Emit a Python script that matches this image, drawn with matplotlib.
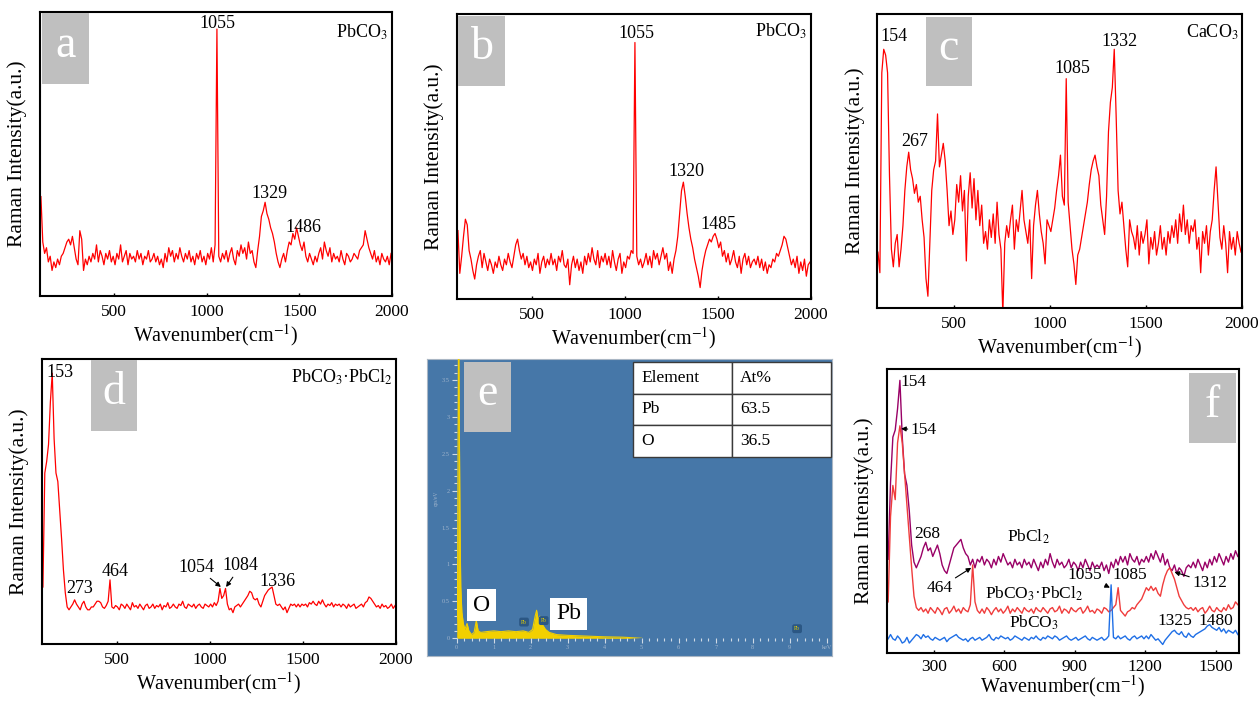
import matplotlib
matplotlib.use('Agg')
import matplotlib.pyplot as plt
from matplotlib.patches import Rectangle

plt.rcParams['font.family'] = ['Liberation Serif', 'DejaVu Serif']
plt.rcParams['mathtext.fontset'] = 'stix'

# ---- data (intensity in % of panel height) ----
wavenumber = [
    105, 115, 125, 135, 145, 155, 165, 175, 185, 195,
    205, 215, 225, 235, 245, 255, 265, 275, 285, 295,
    305, 315, 325, 335, 345, 355, 365, 375, 385, 395,
    405, 415, 425, 435, 445, 455, 465, 475, 485, 495,
    505, 515, 525, 535, 545, 555, 565, 575, 585, 595,
    605, 615, 625, 635, 645, 655, 665, 675, 685, 695,
    705, 715, 725, 735, 745, 755, 765, 775, 785, 795,
    805, 815, 825, 835, 845, 855, 865, 875, 885, 895,
    905, 915, 925, 935, 945, 955, 965, 975, 985, 995,
    1005, 1015, 1025, 1035, 1045, 1055, 1065, 1075, 1085, 1095,
    1105, 1115, 1125, 1135, 1145, 1155, 1165, 1175, 1185, 1195,
    1205, 1215, 1225, 1235, 1245, 1255, 1265, 1275, 1285, 1295,
    1305, 1315, 1325, 1335, 1345, 1355, 1365, 1375, 1385, 1395,
    1405, 1415, 1425, 1435, 1445, 1455, 1465, 1475, 1485, 1495,
    1505, 1515, 1525, 1535, 1545, 1555, 1565, 1575, 1585, 1595,
    1605, 1615, 1625, 1635, 1645, 1655, 1665, 1675, 1685, 1695,
    1705, 1715, 1725, 1735, 1745, 1755, 1765, 1775, 1785, 1795,
    1805, 1815, 1825, 1835, 1845, 1855, 1865, 1875, 1885, 1895,
    1905, 1915, 1925, 1935, 1945, 1955, 1965, 1975, 1985, 1995,
]

raman_a = [
    35, 19, 15, 17, 12, 14, 9, 12, 10, 13,
    11, 14, 15, 17, 19, 20, 18, 21, 17, 13,
    11, 23, 20, 9, 13, 11, 14, 12, 15, 13,
    18, 12, 16, 14, 11, 15, 13, 16, 12, 14,
    11, 15, 13, 18, 12, 14, 16, 11, 15, 13,
    14, 12, 16, 13, 15, 11, 14, 13, 16, 12,
    13, 15, 12, 14, 11, 13, 10, 15, 12, 17,
    14, 16, 12, 15, 13, 17, 14, 12, 15, 13,
    16, 12, 14, 11, 15, 13, 16, 12, 14, 11,
    15, 13, 17, 12, 18, 94, 14, 12, 15, 13,
    16, 12, 15, 17, 13, 11, 16, 14, 18, 15,
    17, 13, 19, 15, 16, 12, 10, 16, 21, 28,
    30, 33, 29, 27, 24, 22, 19, 15, 12, 10,
    13, 15, 12, 16, 19, 18, 22, 20, 24, 21,
    18, 16, 19, 14, 12, 15, 13, 11, 14, 12,
    15, 17, 13, 19, 16, 14, 17, 12, 15, 13,
    14, 12, 16, 13, 11, 15, 14, 12, 13, 15,
    14, 13, 16, 17, 18, 23, 20, 17, 15, 13,
    16, 12, 14, 11, 15, 13, 12, 14, 11, 15,
]

raman_b = [
    24, 9, 15, 22, 28, 26, 17, 14, 10, 7,
    12, 15, 17, 11, 16, 13, 10, 14, 12, 9,
    13, 11, 15, 12, 10, 14, 12, 16, 13, 11,
    15, 19, 21, 17, 14, 16, 12, 15, 11, 13,
    10, 14, 12, 16, 9, 13, 15, 11, 14, 12,
    16, 12, 14, 10, 15, 13, 17, 12, 11, 14,
    5, 12, 15, 11, 14, 10, 13, 9, 15, 12,
    16, 13, 18, 14, 12, 17, 11, 15, 13, 16,
    12, 15, 11, 17, 13, 10, 14, 16, 9, 13,
    11, 15, 14, 17, 16, 90, 15, 12, 14, 11,
    13, 16, 12, 15, 11, 17, 14, 16, 12, 15,
    18, 14, 16, 10, 13, 9, 14, 17, 22, 30,
    38, 41, 36, 30, 25, 21, 18, 14, 11, 8,
    4, 10, 14, 17, 19, 21, 20, 22, 23, 21,
    18, 20, 15, 17, 13, 16, 12, 14, 17, 13,
    11, 15, 9, 14, 16, 12, 15, 11, 13, 14,
    12, 15, 11, 14, 10, 13, 9, 12, 11, 14,
    13, 16, 15, 17, 19, 22, 21, 18, 15, 12,
    14, 11, 15, 9, 13, 10, 14, 8, 12, 13,
]

raman_c = [
    19, 12, 80, 88, 86, 80, 45, 20, 14, 22,
    25, 14, 20, 28, 40, 48, 53, 47, 44, 39,
    42, 36, 38, 30, 24, 10, 4, 22, 40, 47,
    50, 66, 48, 52, 56, 50, 40, 28, 33, 25,
    30, 42, 36, 45, 33, 40, 16, 38, 46, 34,
    44, 30, 40, 28, 35, 22, 26, 20, 30, 24,
    32, 22, 36, 25, 20, -2, 22, 28, 24, 30,
    35, 20, 30, 26, 33, 40, 30, 26, 22, 30,
    10, 28, 35, 40, 32, 26, 22, 15, 30, 28,
    26, 30, 34, 40, 45, 52, 38, 35, 78, 36,
    28, 20, 15, 8, 18, 20, 24, 28, 32, 36,
    42, 47, 50, 52, 48, 45, 35, 30, 25, 38,
    60, 70, 75, 88, 65, 40, 32, 36, 28, 20,
    14, 30, 26, 24, 20, 28, 18, 26, 22, 25,
    30, 15, 24, 20, 26, 18, 22, 28, 20, 24,
    18, 26, 22, 28, 24, 30, 22, 32, 26, 35,
    25, 30, 22, 28, 26, 30, 20, 24, 12, 26,
    22, 28, 18, 26, 30, 40, 48, 36, 24, 20,
    28, 22, 12, 26, 20, 24, 18, 26, 22, 19,
]

raman_d = [
    20, 60, 64, 70, 85, 95, 72, 60, 57, 47,
    37, 26, 18, 13, 12, 13, 14, 15.5, 14, 13,
    12, 14, 15, 13, 12, 12, 13, 13, 14, 15,
    15, 14.5, 13, 12.5, 13.5, 15, 22.5, 13, 12.5, 13.5,
    13, 12, 14, 13.5, 12.5, 14, 13, 12, 14.5, 13,
    13.5, 12.5, 14, 13, 12, 13.5, 14, 12.5, 13, 14,
    12.5, 13.5, 13, 14, 12, 13.5, 13, 14.5, 12.5, 13,
    14, 13, 12.5, 14, 13.5, 15, 13, 12.5, 14, 13.5,
    13, 14, 12.5, 13.5, 14, 13, 12.5, 14, 13.5, 13,
    14, 13, 14.5, 13.5, 15, 19.5, 16, 17, 19.5, 14,
    12, 12.5, 11, 13, 13.5, 14, 13, 14, 15, 16,
    17, 18.5, 18, 16, 15.5, 16, 14, 13, 15, 17,
    18, 19, 19.5, 20, 17, 14, 13.5, 14, 13, 12,
    13, 11, 12.5, 14, 13.5, 14, 13, 14, 13, 14,
    13.5, 14, 13, 14.5, 14, 15, 14, 13.5, 15, 14,
    15.5, 14, 13, 14, 13.5, 14.5, 13, 14, 13.5, 14,
    13, 14, 13.5, 12.5, 14, 13, 13.5, 14, 12.5, 13,
    13.5, 14, 13, 14.5, 15, 16.5, 16, 15, 14, 13,
    13.5, 12.5, 14, 13, 13.5, 12.5, 13, 14, 12.5, 13.5,
]

# panel f covers 100-1600 cm-1 (first 150 grid points)
raman_f_pbcl2 = [
    33, 60, 76, 78.5, 86, 96, 76, 63, 59, 50,
    38, 32, 30, 32, 34, 37, 39, 36, 37, 34,
    36, 38, 35, 31, 29, 28, 31, 34, 37, 38,
    39, 40, 37, 35, 34, 31, 33, 30, 33, 32,
    34, 31, 33, 32, 30, 33, 31, 34, 32, 35,
    33, 31, 32, 30, 33, 31, 32, 30, 33, 31,
    32, 30, 33, 31, 29, 32, 30, 33, 31, 35,
    32, 30, 33, 31, 32, 30, 31, 33, 30, 32,
    31, 29, 32, 30, 33, 31, 29, 32, 30, 31,
    30, 32, 29, 31, 28, 32, 30, 33, 31, 34,
    32, 34, 31, 35, 33, 32, 34, 31, 33, 32,
    34, 32, 35, 33, 36, 34, 32, 35, 31, 33,
    30, 29, 31, 28, 30, 29, 27, 30, 31, 30,
    32, 30, 33, 31, 29, 32, 30, 33, 31, 34,
    32, 35, 33, 31, 34, 32, 35, 33, 36, 34,
]

raman_f_mixed = [
    18, 48, 59, 54, 74, 80, 74, 63, 52, 41,
    30, 20, 16, 15, 16, 14.5, 15.5, 14, 16, 15,
    14, 16, 15, 13.5, 15.5, 16, 14, 15, 16.5, 14.5,
    15.5, 14, 16, 15, 14.5, 17, 31, 18, 15, 14,
    15.5, 14, 16, 15, 13.5, 15, 16, 14.5, 15.5, 14,
    15, 16.5, 14, 15.5, 14.5, 16, 15, 14, 16, 15,
    14.5, 15.5, 14, 16, 15, 14.5, 16, 15, 14, 15.5,
    16, 14.5, 15, 16.5, 14, 15.5, 15, 14, 16, 15,
    14.5, 15.5, 16, 14, 15, 16.5, 14.5, 15, 14, 15.5,
    15, 14, 16, 15.5, 14.5, 15, 16, 17, 23, 15,
    14, 13, 14.5, 15, 16, 15.5, 17, 18, 19, 21,
    23, 22, 23.5, 22, 23, 21, 20, 24, 27, 29,
    30, 28, 26, 23, 20, 18.5, 17, 16, 15.5, 16,
    15, 16, 14.5, 15.5, 16, 14, 15, 16.5, 15, 14.5,
    16, 15, 14.5, 16, 15, 17, 15.5, 16, 18, 17,
]

raman_f_pbco3 = [
    5, 6.5, 5, 4.5, 6, 5, 3.5, 4, 5.5, 3.5,
    4.5, 5.5, 6.5, 6, 5, 6.5, 5.5, 6, 5, 4.5,
    5.5, 5, 4.5, 5, 5.5, 4, 5, 5.5, 6, 6.5,
    5.5, 5, 4.5, 5, 4, 5, 5.5, 4.5, 5, 5.5,
    4.5, 5, 5.5, 6.5, 5, 4.5, 5.5, 5, 6, 5.5,
    5, 5.5, 4.5, 5, 6, 5.5, 5, 4.5, 5.5, 5,
    4.5, 5.5, 5, 6, 5, 4.5, 5.5, 5, 6, 5.5,
    5, 6, 5.5, 4.5, 5, 5.5, 6, 5, 4.5, 5,
    5.5, 4.5, 5, 5.5, 6, 5, 4.5, 5.5, 5, 4.5,
    5, 5.5, 4.5, 5, 6, 24, 5.5, 5, 6, 5,
    5.5, 6, 5, 4.5, 5.5, 6, 5, 5.5, 6, 5,
    6, 5, 6.5, 5.5, 4.5, 5, 4, 3, 4.5, 5.5,
    6.5, 7.5, 8, 7, 6.5, 7.5, 6, 5.5, 7, 6,
    5.5, 6.5, 7, 7.5, 8, 8.5, 9.5, 10, 9, 8.5,
    8, 9, 7.5, 8.5, 7, 8, 7.5, 7, 8, 6.5,
]

# EDS spectrum (panel e)
eds_energy = [0.0, 0.02, 0.05, 0.07, 0.09, 0.11, 0.14, 0.18, 0.22, 0.28,
              0.33, 0.4, 0.47, 0.53, 0.58, 0.65, 0.8, 1.0, 1.2, 1.4,
              1.6, 1.8, 1.95, 2.05, 2.12, 2.16, 2.2, 2.25, 2.3, 2.4,
              2.5, 2.7, 3.0, 3.5, 4.0, 4.5, 5.0]
eds_counts = [0.0, 0.3, 4.5, 3.0, 1.5, 0.7, 0.35, 0.2, 0.12, 0.2,
              0.1, 0.05, 0.08, 0.24, 0.1, 0.08, 0.09, 0.1, 0.09, 0.1,
              0.09, 0.1, 0.08, 0.12, 0.3, 0.38, 0.25, 0.3, 0.2, 0.12,
              0.08, 0.05, 0.04, 0.03, 0.02, 0.015, 0.0]
pb_marker_kev = [1.82, 2.35, 9.2]
pb_marker_cps = [0.22, 0.24, 0.13]
table_element = ['Element', 'Pb', 'O']
table_at = ['At%', '63.5', '36.5']

W, H = 1259, 701
fig = plt.figure(figsize=(W / 100, H / 100), dpi=100)


def px_rect(left, top, right, bottom):
    return [left / W, 1 - bottom / H, (right - left) / W, (bottom - top) / H]


def raman_axes(rect, xlim, xticks, tick_pad=6, label_pad=1):
    ax = fig.add_axes(px_rect(*rect))
    ax.set_xlim(*xlim)
    ax.set_ylim(0, 100)
    ax.set_yticks([])
    ax.set_xticks(xticks)
    ax.tick_params(axis='x', direction='in', length=2.5, width=1, labelsize=12.5, pad=tick_pad)
    for s in ax.spines.values():
        s.set_linewidth(1.5)
    ax.set_xlabel('Wavenumber(cm$^{-1}$)', fontsize=14.5, labelpad=label_pad)
    ax.set_ylabel('Raman Intensity(a.u.)', fontsize=15.5, labelpad=9)
    return ax


def letter_box(ax, letter, x0, y0, x1, y1):
    ax.add_patch(Rectangle((x0, y0), x1 - x0, y1 - y0, transform=ax.transAxes,
                           facecolor='#bfbfbf', edgecolor='none', zorder=3))
    ax.text((x0 + x1) / 2, (y0 + y1) / 2 + 0.01, letter, transform=ax.transAxes,
            color='white', fontsize=33, ha='center', va='center', zorder=4)


ticks_2000 = [500, 1000, 1500, 2000]
fs = 13

# ---- a ----
ax = raman_axes((40, 12, 392, 296), (100, 2000), ticks_2000)
ax.plot(wavenumber, raman_a, color='#ff0000', lw=0.9)
ax.text(1055, 96, '1055', fontsize=fs, ha='center', va='center')
ax.text(1341, 36, '1329', fontsize=fs, ha='center', va='center')
ax.text(1520, 24, '1486', fontsize=fs, ha='center', va='center')
ax.text(1975, 93, 'PbCO$_3$', fontsize=fs, ha='right', va='center')
letter_box(ax, 'a', 0.006, 0.746, 0.139, 0.996)

# ---- b ----
ax = raman_axes((457, 14, 811, 299), (100, 2000), ticks_2000)
ax.plot(wavenumber, raman_b, color='#ff0000', lw=0.9)
ax.text(1061, 93, '1055', fontsize=fs, ha='center', va='center')
ax.text(1331, 44.7, '1320', fontsize=fs, ha='center', va='center')
ax.text(1505, 26, '1485', fontsize=fs, ha='center', va='center')
ax.text(1975, 94, 'PbCO$_3$', fontsize=fs, ha='right', va='center')
letter_box(ax, 'b', 0.004, 0.747, 0.137, 0.993)

# ---- c ----
ax = raman_axes((877, 14, 1242, 308), (100, 2000), ticks_2000)
ax.plot(wavenumber, raman_c, color='#ff0000', lw=0.9)
ax.text(190, 92.5, '154', fontsize=fs, ha='center', va='center')
ax.text(294, 56.6, '267', fontsize=fs, ha='center', va='center')
ax.text(1118, 81.5, '1085', fontsize=fs, ha='center', va='center')
ax.text(1362, 90.8, '1332', fontsize=fs, ha='center', va='center')
ax.text(1980, 93.8, 'CaCO$_3$', fontsize=fs, ha='right', va='center')
letter_box(ax, 'c', 0.133, 0.755, 0.261, 0.99)

# ---- d ----
ax = raman_axes((42, 359, 396, 644), (100, 2000), ticks_2000)
ax.plot(wavenumber, raman_d, color='#ff0000', lw=0.9)
ax.text(196, 95.4, '153', fontsize=fs, ha='center', va='center')
ax.text(304, 19.6, '273', fontsize=fs, ha='center', va='center')
ax.text(491, 25.6, '464', fontsize=fs, ha='center', va='center')
arrow = dict(arrowstyle='-|>', color='black', lw=0.8, mutation_scale=7, shrinkA=0, shrinkB=0)
ax.annotate('1054', xy=(1060, 20), xytext=(929, 27), fontsize=fs, ha='center', va='center',
            arrowprops=arrow)
ax.annotate('1084', xy=(1088, 20), xytext=(1166, 27.4), fontsize=fs, ha='center', va='center',
            arrowprops=arrow)
ax.text(1362, 22, '1336', fontsize=fs, ha='center', va='center')
ax.text(1982, 93.6, 'PbCO$_3$·PbCl$_2$', fontsize=fs, ha='right', va='center')
letter_box(ax, 'd', 0.138, 0.746, 0.269, 0.995)

# ---- e (EDS) ----
ax_e = fig.add_axes(px_rect(427, 359, 832, 656))
ax_e.set_facecolor('#4677a8')
ax_e.set_xticks([])
ax_e.set_yticks([])
for s in ax_e.spines.values():
    s.set_color('#a9b6c4')
    s.set_linewidth(0.8)

ax_in = fig.add_axes(px_rect(456.7, 359.3, 826.7, 638.3))
ax_in.patch.set_alpha(0)
for s in ax_in.spines.values():
    s.set_visible(False)
ax_in.set_xlim(0, 10)
ax_in.set_ylim(0, 3.78)
ax_in.fill_between(eds_energy, eds_counts, color='#f2d000', lw=0)
ax_in.plot(eds_energy, eds_counts, color='#f2d000', lw=0.8)
ax_in.set_xticks(range(11))
ax_in.set_xticklabels([str(i) for i in range(10)] + ['keV'])
ax_in.set_xticks([i * 0.2 for i in range(51)], minor=True)
ax_in.set_yticks([i * 0.5 for i in range(8)])
ax_in.set_yticklabels(['0', '0.5', '1', '1.5', '2', '2.5', '3', '3.5'])
ax_in.set_yticks([i * 0.1 for i in range(38)], minor=True)
ax_in.tick_params(which='major', colors='#cfdae6', labelcolor='#9fb4cc', labelsize=4.5,
                  length=3.5, width=0.8, pad=1.5)
ax_in.tick_params(which='minor', colors='#cfdae6', length=2, width=0.8)
ax_in.set_ylabel('cps/eV', fontsize=4, color='#9fb4cc', labelpad=2)
for xk, yk in zip(pb_marker_kev, pb_marker_cps):
    ax_in.text(xk, yk, 'Pb', fontsize=4, color='#e8d200', ha='center', va='center', zorder=2,
               bbox=dict(boxstyle='round,pad=0.35', facecolor='#2b5784', edgecolor='none'))
ax_in.text(0.68, 0.45, 'O', fontsize=17, ha='center', va='center', zorder=5,
           bbox=dict(boxstyle='square,pad=0.25', facecolor='white', edgecolor='none'))
ax_in.text(3.03, 0.33, 'Pb', fontsize=17, ha='center', va='center', zorder=5,
           bbox=dict(boxstyle='square,pad=0.25', facecolor='white', edgecolor='none'))

tbl = ax_e.table(cellText=[[a, b] for a, b in zip(table_element, table_at)],
                 cellLoc='left', bbox=[0.509, 0.669, 0.488, 0.322], zorder=5)
tbl.auto_set_font_size(False)
tbl.set_fontsize(12.5)
for cell in tbl.get_celld().values():
    cell.set_edgecolor('#3a3a3a')
    cell.set_linewidth(1.0)
    cell.set_facecolor('white')
    cell.PAD = 0.08
letter_box(ax_e, 'e', 0.092, 0.753, 0.207, 0.991)

# ---- f ----
wn_f = wavenumber[:150]
ax = raman_axes((887, 369, 1239, 653), (100, 1600), [300, 600, 900, 1200, 1500],
                tick_pad=4, label_pad=-1)
ax.plot(wn_f, raman_f_pbcl2, color='#990066', lw=1.0)
ax.plot(wn_f, raman_f_mixed, color='#f03c3c', lw=1.0)
ax.plot(wn_f, raman_f_pbco3, color='#1f6fe6', lw=1.0)
fs_f = 12.5
ax.text(156, 95.5, '154', fontsize=fs_f, ha='left', va='center')
ax.annotate('154', xy=(160, 79), xytext=(200, 78.5), fontsize=fs_f, ha='left', va='center',
            arrowprops=arrow)
ax.text(270, 41.9, '268', fontsize=fs_f, ha='center', va='center')
ax.text(702, 41, 'PbCl$_2$', fontsize=fs_f, ha='center', va='center')
ax.annotate('464', xy=(459, 30), xytext=(324, 22.9), fontsize=fs_f, ha='center', va='center',
            arrowprops=arrow)
ax.text(727, 21, 'PbCO$_3$·PbCl$_2$', fontsize=fs_f, ha='center', va='center')
ax.annotate('1055', xy=(1050, 23), xytext=(944, 27.3), fontsize=fs_f, ha='center', va='center',
            arrowprops=arrow)
ax.text(1134, 27.5, '1085', fontsize=fs_f, ha='center', va='center')
ax.annotate('1312', xy=(1325, 28.5), xytext=(1474, 24.6), fontsize=fs_f, ha='center', va='center',
            arrowprops=arrow)
ax.text(727, 10.5, 'PbCO$_3$', fontsize=fs_f, ha='center', va='center')
ax.text(1327, 11.1, '1325', fontsize=fs_f, ha='center', va='center')
ax.text(1500, 11.1, '1480', fontsize=fs_f, ha='center', va='center')
letter_box(ax, 'f', 0.857, 0.739, 0.991, 0.985)

fig.savefig('out.png', dpi=100)
